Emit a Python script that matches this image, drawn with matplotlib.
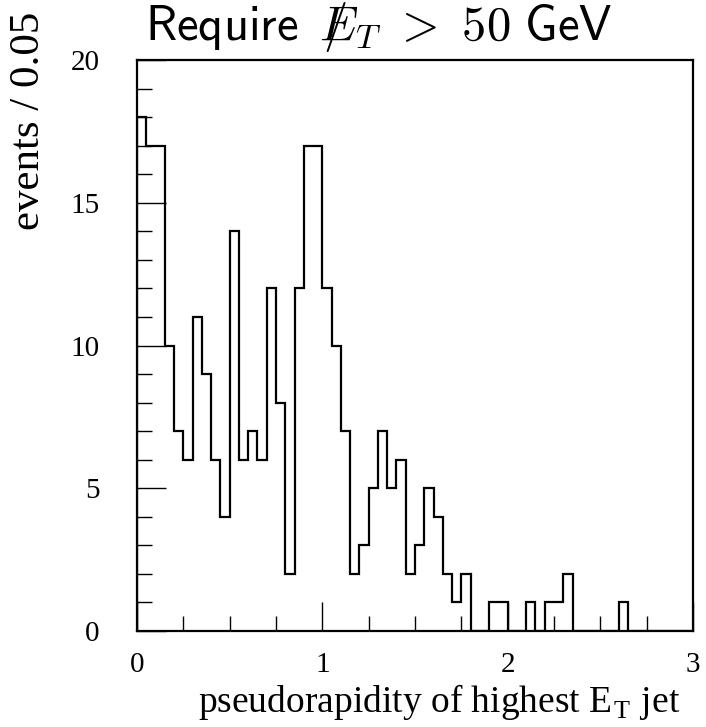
import numpy as np
import matplotlib
matplotlib.use("Agg")
import matplotlib.pyplot as plt
from matplotlib.ticker import MultipleLocator

# Histogram data: 60 bins of width 0.05 from 0 to 3
bin_edges = np.round(np.arange(0, 3.0001, 0.05), 2)
counts = [18, 17, 17, 10, 7, 6, 11, 9, 6, 4,
          14, 6, 7, 6, 12, 8, 2, 12, 17, 17,
          12, 10, 7, 2, 3, 5, 7, 5, 6, 2,
          3, 5, 4, 2, 1, 2, 0, 0, 1, 1,
          0, 0, 1, 0, 1, 1, 2, 0, 0, 0,
          0, 0, 1, 0, 0, 0, 0, 0, 0, 0]
x_ticks = [0, 1, 2, 3]
y_ticks = [0, 5, 10, 15, 20]

plt.rcParams['mathtext.fontset'] = 'cm'
serif = ['Liberation Serif', 'DejaVu Serif']

W, H = 706, 727
fig = plt.figure(figsize=(W/100, H/100), dpi=100)
ax = fig.add_axes([137/W, 1-631/H, (693-137)/W, (631-60)/H])

ax.stairs(counts, bin_edges, baseline=0, color='black', lw=1.6)

ax.set_xlim(0, 3)
ax.set_ylim(0, 20)
ax.set_xticks(x_ticks)
ax.set_yticks(y_ticks)
ax.xaxis.set_minor_locator(MultipleLocator(0.25))
ax.yaxis.set_minor_locator(MultipleLocator(1))
ax.tick_params(which='major', direction='in', length=21, width=1.0, labelsize=21)
ax.tick_params(which='minor', direction='in', length=11, width=1.0)
ax.tick_params(axis='x', which='major', pad=15)
ax.tick_params(axis='y', which='major', pad=27)
for lab in ax.get_xticklabels() + ax.get_yticklabels():
    lab.set_family(serif)
for sp in ax.spines.values():
    sp.set_linewidth(1.6)

# x label
fig.text(439/W, 1-712/H, r'pseudorapidity of highest E$_\mathregular{T}$ jet',
         fontsize=27, family=serif, ha='center', va='baseline')
# y label
fig.text(29/W, 1-12/H, 'events / 0.05', rotation=90, fontsize=31,
         family=serif, ha='center', va='top')

# title (slash overlaid on E for missing transverse energy)
title_str = r'$\mathsf{Require}\ \;/\!\!\!\!E_T\ >\ 50\ \mathsf{GeV}$'
fig.text(145/W, 1-40/H, title_str, fontsize=35, ha='left', va='baseline')

fig.savefig('out.png', dpi=100)
